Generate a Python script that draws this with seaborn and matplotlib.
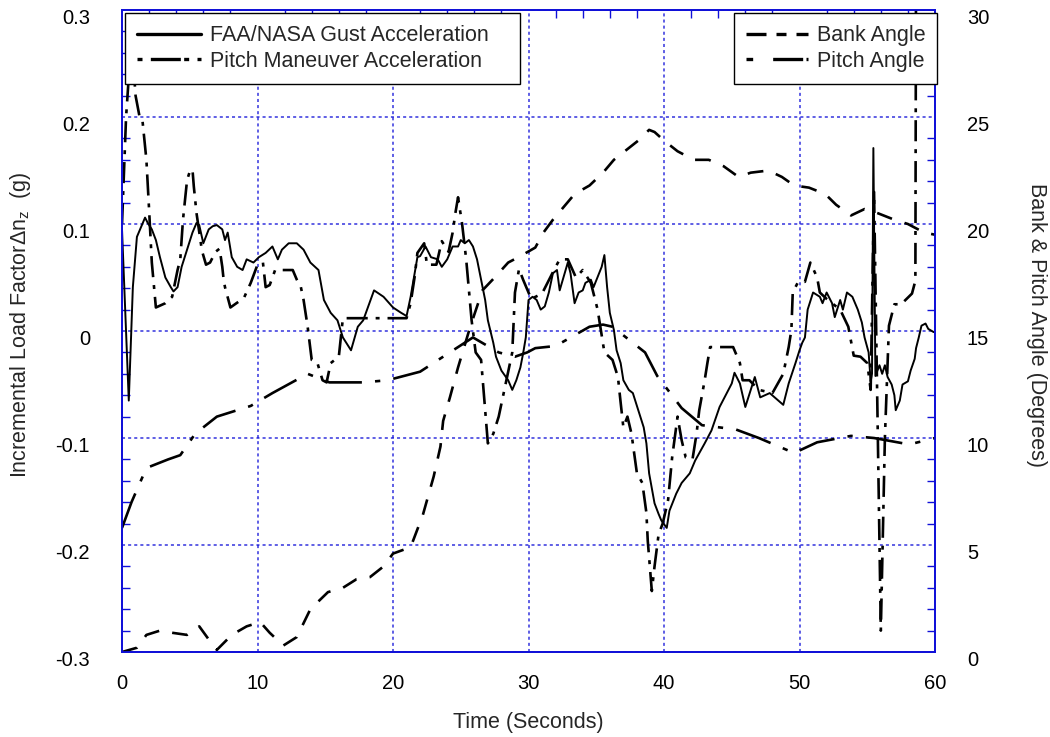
import pandas as pd
import seaborn as sns
import matplotlib.pyplot as plt
import matplotlib.transforms as mtransforms
from matplotlib.lines import Line2D
from matplotlib.ticker import MultipleLocator, FuncFormatter

sns.set_style("white")
plt.rcParams['font.family'] = ['Liberation Sans', 'DejaVu Sans']
plt.rcParams['axes.unicode_minus'] = False
plt.rcParams['mathtext.fontset'] = 'custom'
plt.rcParams['mathtext.rm'] = 'Liberation Sans'

# FAA/NASA gust acceleration (g), left axis
gust_t = [0.0, 0.5, 0.8, 1.1, 1.7, 1.9, 2.2, 2.5, 2.8, 3.2, 3.6, 3.8, 4.1, 4.4, 4.8, 5.2, 5.5, 5.7,
          6.0, 6.4, 6.7, 7.0, 7.4, 7.6, 7.8, 8.1, 8.5, 8.9, 9.2, 9.7, 10.1, 10.6, 11.1, 11.5, 11.8,
          12.3, 12.9, 13.4, 13.9, 14.5, 14.9, 15.4, 15.9, 16.3, 16.9, 17.4, 17.8, 18.6, 19.3, 20.0,
          20.6, 21.0, 21.3, 21.8, 22.0, 22.4, 22.8, 23.3, 23.6, 24.0, 24.4, 24.8, 25.0, 25.3, 25.6,
          25.9, 26.2, 26.5, 26.8, 27.0, 27.4, 27.6, 28.0, 28.5, 28.8, 29.1, 29.4, 29.6, 29.8, 30.0,
          30.3, 30.6, 30.9, 31.2, 31.5, 31.8, 32.1, 32.3, 32.6, 32.9, 33.1, 33.4, 33.7, 34.0, 34.2,
          34.6, 34.8, 35.4, 35.6, 35.8, 36.0, 36.3, 36.5, 36.8, 37.0, 37.4, 37.7, 38.1, 38.5, 38.7,
          38.9, 39.3, 39.6, 39.8, 40.2, 40.4, 40.9, 41.3, 41.9, 42.3, 43.0, 43.5, 44.1, 45.0, 45.2,
          45.6, 46.0, 46.7, 47.1, 47.8, 48.8, 49.2, 49.7, 50.0, 50.2, 50.4, 50.6, 51.0, 51.5, 51.7,
          52.0, 52.4, 52.6, 53.0, 53.2, 53.5, 53.9, 54.3, 54.6, 54.8, 55.1, 55.25, 55.35, 55.45,
          55.6, 55.9, 56.1, 56.3, 56.5, 56.8, 57.0, 57.1, 57.4, 57.6, 58.0, 58.2, 58.5, 58.6, 58.8,
          59.0, 59.3, 59.5, 59.9]
gust_g = [0.095, -0.065, 0.041, 0.088, 0.106, 0.101, 0.095, 0.085, 0.069, 0.050, 0.041, 0.037,
          0.041, 0.060, 0.076, 0.092, 0.101, 0.099, 0.082, 0.095, 0.098, 0.099, 0.095, 0.085,
          0.092, 0.069, 0.060, 0.057, 0.067, 0.064, 0.069, 0.073, 0.079, 0.067, 0.076, 0.082,
          0.082, 0.076, 0.064, 0.057, 0.029, 0.017, 0.010, -0.006, -0.018, 0.004, 0.010, 0.038,
          0.032, 0.022, 0.017, 0.014, 0.032, 0.069, 0.070, 0.079, 0.069, 0.067, 0.060, 0.067,
          0.079, 0.079, 0.085, 0.082, 0.085, 0.079, 0.067, 0.048, 0.029, 0.010, -0.011, -0.024,
          -0.037, -0.046, -0.055, -0.046, -0.034, -0.021, -0.006, 0.029, 0.032, 0.029, 0.020,
          0.023, 0.036, 0.054, 0.057, 0.038, 0.051, 0.064, 0.054, 0.026, 0.036, 0.038, 0.045,
          0.048, 0.041, 0.060, 0.071, 0.041, 0.017, 0.001, -0.018, -0.030, -0.046, -0.055, -0.058,
          -0.074, -0.090, -0.105, -0.133, -0.161, -0.171, -0.177, -0.184, -0.168, -0.152, -0.142,
          -0.133, -0.121, -0.105, -0.093, -0.071, -0.049, -0.039, -0.049, -0.071, -0.043, -0.062,
          -0.058, -0.069, -0.049, -0.030, -0.018, -0.011, -0.006, 0.020, 0.036, 0.032, 0.026,
          0.036, 0.026, 0.013, 0.029, 0.020, 0.036, 0.032, 0.020, 0.008, -0.006, -0.020, -0.047,
          -0.040, 0.171, -0.042, -0.032, -0.040, -0.032, -0.043, -0.050, -0.060, -0.074, -0.065,
          -0.050, -0.047, -0.037, -0.026, -0.016, -0.006, 0.005, 0.007, 0.002, -0.001]

# pitch maneuver acceleration (g), left axis
maneuver_t = [0.0, 0.3, 0.7, 1.0, 1.3, 1.5, 1.8, 2.0, 2.2, 2.4, 2.5, 3.2, 3.7, 4.1, 4.3, 4.5, 4.8,
              5.0, 5.2, 5.3, 5.5, 5.9, 6.2, 6.5, 6.9, 7.2, 7.4, 7.5, 7.6, 8.0, 9.0, 9.5, 10.0, 10.4,
              10.6, 10.9, 11.3, 11.9, 12.6, 12.9, 13.2, 13.4, 13.7, 14.0, 14.4, 14.8, 15.1, 15.4,
              16.0, 16.3, 21.0, 21.3, 21.6, 21.8, 22.3, 22.5, 23.2, 23.6, 24.1, 24.4, 24.6, 24.8,
              25.1, 25.4, 25.6, 25.8, 26.1, 26.5, 27.0, 27.4, 27.8, 28.3, 28.8, 29.0, 29.3, 29.6,
              30.2, 31.0, 31.8, 32.3, 32.9, 33.5, 34.0, 34.6, 35.1, 35.3, 35.6, 36.2, 36.6, 36.8,
              37.0, 37.3, 37.6, 38.0, 38.4, 38.7, 38.8, 39.1, 39.3, 39.6, 39.9, 40.3, 40.6, 41.0,
              41.3, 41.6, 42.1, 42.4, 42.6, 43.0, 43.2, 43.4, 45.1, 45.6, 45.8, 46.3, 47.0, 48.0,
              48.8, 49.2, 49.4, 49.5, 49.9, 50.4, 50.8, 51.3, 51.5, 52.0, 53.0, 53.6, 54.0, 54.5,
              55.0, 55.25, 55.5, 56.0, 56.3, 56.6, 57.0, 57.5, 58.3, 58.55, 58.6]
maneuver_g = [0.100, 0.200, 0.275, 0.220, 0.200, 0.198, 0.160, 0.113, 0.064, 0.036, 0.022, 0.026,
              0.032, 0.057, 0.067, 0.104, 0.141, 0.149, 0.151, 0.135, 0.110, 0.075, 0.062, 0.064,
              0.074, 0.077, 0.060, 0.048, 0.041, 0.022, 0.031, 0.045, 0.062, 0.064, 0.041, 0.043,
              0.057, 0.057, 0.057, 0.048, 0.041, 0.029, 0.004, -0.027, -0.029, -0.046, -0.048,
              -0.030, -0.024, 0.012, 0.012, 0.026, 0.051, 0.073, 0.082, 0.062, 0.062, 0.084, 0.074,
              0.092, 0.110, 0.125, 0.100, 0.067, 0.038, 0.010, -0.020, -0.027, -0.105, -0.096,
              -0.080, -0.050, -0.020, 0.036, 0.058, 0.048, 0.030, 0.035, 0.055, 0.067, 0.067, 0.050,
              0.057, 0.045, 0.020, 0.004, -0.020, -0.027, -0.043, -0.067, -0.090, -0.080, -0.096,
              -0.133, -0.142, -0.170, -0.196, -0.243, -0.220, -0.190, -0.180, -0.158, -0.118,
              -0.080, -0.102, -0.118, -0.120, -0.096, -0.074, -0.046, -0.030, -0.015, -0.015,
              -0.030, -0.046, -0.046, -0.055, -0.058, -0.040, -0.015, 0.001, 0.036, 0.046, 0.046,
              0.064, 0.050, 0.036, 0.030, 0.020, 0.004, -0.023, -0.024, -0.030, -0.055, 0.130,
              -0.280, -0.100, 0.005, 0.025, 0.025, 0.035, 0.047, 0.350]

# bank angle (degrees), right axis
bank_t = [0.0, 1.1, 1.8, 2.8, 3.7, 4.8, 5.7, 6.5, 7.0, 8.1, 9.2, 10.2, 10.9, 11.9, 12.9, 13.9,
          15.2, 16.3, 17.3, 18.3, 19.3, 20.0, 21.3, 22.2, 23.0, 23.5, 23.7, 24.2, 24.8, 25.7,
          26.6, 27.5, 28.5, 29.4, 30.5, 31.1, 31.8, 32.6, 33.4, 34.5, 35.5, 36.3, 37.3, 38.1,
          38.9, 39.3, 40.0, 41.0, 42.2, 43.3, 44.4, 45.5, 46.4, 47.7, 48.7, 49.6, 50.7, 51.9,
          52.7, 53.8, 54.8, 55.8, 57.0, 58.0, 59.2, 60.0]
bank_deg = [0.0, 0.2, 0.8, 1.0, 0.9, 0.8, 1.2, 0.5, 0.1, 0.8, 1.2, 1.4, 0.9, 0.3, 0.7, 2.0,
            2.8, 3.0, 3.4, 3.5, 4.0, 4.6, 4.9, 6.4, 8.2, 9.6, 10.8, 11.9, 13.3, 15.2,
            16.9, 17.5, 18.2, 18.5, 18.9, 19.6, 20.2, 20.8, 21.4, 21.8, 22.4, 23.0, 23.5, 23.9,
            24.4, 24.3, 23.9, 23.4, 23.0, 23.0, 22.7, 22.2, 22.4, 22.5, 22.2, 21.8, 21.7, 21.4,
            20.9, 20.4, 20.7, 20.5, 20.2, 20.0, 19.6, 19.5]

# pitch angle (degrees), right axis
pitch_t = [0.0, 0.7, 1.8, 3.4, 4.3, 5.4, 7.0, 9.5, 11.1, 13.7, 15.3, 17.8, 19.6, 22.0, 23.7,
           25.9, 27.8, 29.0, 29.9, 30.5, 32.0, 34.5, 35.5, 36.2, 38.6, 39.5, 41.3, 42.8, 45.3,
           47.0, 49.6, 51.3, 53.8, 55.5, 58.1, 60.0]
pitch_deg = [5.8, 7.0, 8.6, 9.0, 9.2, 10.2, 11.0, 11.5, 12.1, 13.0, 12.6, 12.6, 12.7, 13.1, 13.8,
             14.7, 14.0, 13.8, 14.0, 14.2, 14.3, 15.2, 15.3, 15.2, 14.0, 12.9, 11.4, 10.6, 10.4,
             10.0, 9.3, 9.8, 10.1, 10.0, 9.7, 10.0]

gust = pd.DataFrame({"t": gust_t, "g": gust_g})
maneuver = pd.DataFrame({"t": maneuver_t, "g": maneuver_g})
bank = pd.DataFrame({"t": bank_t, "deg": bank_deg})
pitch = pd.DataFrame({"t": pitch_t, "deg": pitch_deg})

blue = "#1010d8"
fs_tick = 14.5
fs_label = 15.5

style_maneuver = (0, (8, 3, 1.5, 3))
style_bank = (0, (6, 5))
style_pitch = (0, (14, 5, 2, 5))

fig = plt.figure(figsize=(10.5, 7.37), dpi=100)
ax = fig.add_axes([0.1162, 0.1153, 0.7743, 0.8711])
ax2 = ax.twinx()

sns.lineplot(data=gust, x="t", y="g", ax=ax, color="black", lw=1.4,
             estimator=None, sort=False, legend=False)
sns.lineplot(data=maneuver, x="t", y="g", ax=ax, color="black", lw=1.9,
             linestyle=style_maneuver, estimator=None, sort=False, legend=False)
sns.lineplot(data=bank, x="t", y="deg", ax=ax2, color="black", lw=1.9,
             linestyle=style_bank, estimator=None, sort=False, legend=False)
sns.lineplot(data=pitch, x="t", y="deg", ax=ax2, color="black", lw=1.9,
             linestyle=style_pitch, estimator=None, sort=False, legend=False)

ax.set_xlim(0, 60)
ax.set_ylim(-0.3, 0.3)
ax2.set_ylim(0, 30)

ax.xaxis.set_major_locator(MultipleLocator(10))
ax.xaxis.set_minor_locator(MultipleLocator(2))
ax.yaxis.set_major_locator(MultipleLocator(0.1))
ax.yaxis.set_minor_locator(MultipleLocator(0.02))
ax2.yaxis.set_major_locator(MultipleLocator(5))
ax2.yaxis.set_minor_locator(MultipleLocator(1))
ax.yaxis.set_major_formatter(FuncFormatter(lambda v, p: "0" if abs(v) < 1e-9 else f"{v:.1f}"))

ax.grid(True, which="major", color=blue, linestyle=(0, (2, 2)), lw=1.1, alpha=0.85)
ax.set_axisbelow(True)

ax.tick_params(axis="both", which="both", direction="in", colors=blue, labelcolor="black",
               labelsize=fs_tick, top=True)
ax.tick_params(axis="x", pad=16)
ax.tick_params(axis="y", pad=23)
ax.tick_params(axis="both", which="major", length=0)
ax.tick_params(axis="both", which="minor", length=6, width=1)
ax2.tick_params(axis="y", which="both", direction="in", colors=blue, labelcolor="black",
                labelsize=fs_tick, pad=23)
ax2.tick_params(axis="y", which="major", length=0)
ax2.tick_params(axis="y", which="minor", length=6, width=1)

for a in (ax, ax2):
    for s in a.spines.values():
        s.set_color(blue)
        s.set_linewidth(1.3)

# the reference prints the y tick labels a few pixels below their gridlines
shift = mtransforms.ScaledTranslation(0, -6 / 100, fig.dpi_scale_trans)
for t in ax.yaxis.get_major_ticks() + ax2.yaxis.get_major_ticks():
    t.label1.set_transform(t.label1.get_transform() + shift)
    t.label2.set_transform(t.label2.get_transform() + shift)

ax.set_xlabel("Time (Seconds)", fontsize=fs_label)
ax.set_ylabel(r"Incremental Load FactorΔn$_\mathrm{z}$  (g)", fontsize=fs_label)
ax2.set_ylabel("Bank & Pitch Angle (Degrees)", fontsize=fs_label, rotation=270)
ax.xaxis.set_label_coords(0.5, -0.094)
ax.yaxis.set_label_coords(-0.109, 0.51)
ax2.yaxis.set_label_coords(1.138, 0.51)

# legend handles drawn a little heavier than the plotted lines, as in the original
h1 = [Line2D([], [], color="black", lw=2.4),
      Line2D([], [], color="black", lw=2.4, linestyle=(0, (1.5, 2.5, 9, 1)))]
l1 = ["FAA/NASA Gust Acceleration", "Pitch Maneuver Acceleration"]
h2 = [Line2D([], [], color="black", lw=2.4, linestyle=(0, (6, 3, 3, 3))),
      Line2D([], [], color="black", lw=2.4, linestyle=(0, (2, 6, 9, 1)))]
l2 = ["Bank Angle", "Pitch Angle"]
leg_kw = dict(fontsize=15.5, frameon=True, fancybox=False, framealpha=1, edgecolor="black",
              borderaxespad=0, labelspacing=0.22, borderpad=0.55, handletextpad=0.4)
leg1 = ax2.legend(h1, l1, loc="upper left", bbox_to_anchor=(0.0037, 0.6, 0.486, 0.395),
                  mode="expand", handlelength=3.0, **leg_kw)
leg1.get_frame().set_linewidth(1.0)
leg1.set_zorder(10)
ax2.add_artist(leg1)
leg2 = ax2.legend(h2, l2, loc="upper right", bbox_to_anchor=(1.0025, 0.995),
                  handlelength=2.9, **leg_kw)
leg2.get_frame().set_linewidth(1.0)
leg2.set_zorder(10)

fig.savefig("out.png", dpi=100)
